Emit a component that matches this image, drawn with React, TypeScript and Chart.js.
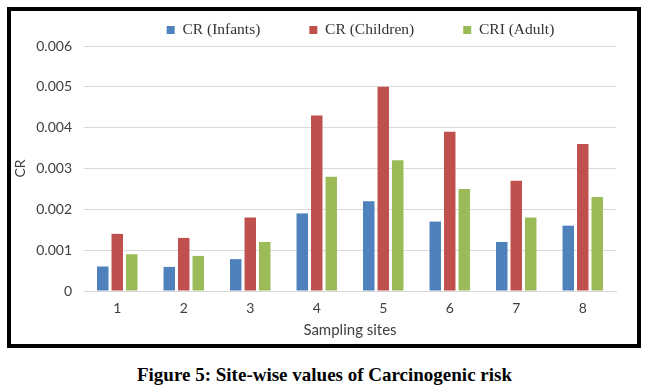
import React, { useEffect, useRef } from "react";
import { Chart, registerables } from "chart.js";

Chart.register(...registerables);

const sites = ["1", "2", "3", "4", "5", "6", "7", "8"];
const crInfants = [0.0006, 0.00059, 0.00078, 0.0019, 0.0022, 0.0017, 0.0012, 0.0016];
const crChildren = [0.0014, 0.0013, 0.0018, 0.0043, 0.005, 0.0039, 0.0027, 0.0036];
const criAdult = [0.0009, 0.00086, 0.0012, 0.0028, 0.0032, 0.0025, 0.0018, 0.0023];
const yTickLabels = ["0", "0.001", "0.002", "0.003", "0.004", "0.005", "0.006"];
const seriesNames = ["CR (Infants)", "CR (Children)", "CRI (Adult)"];

const legendTweak = {
  id: "legendTweak",
  beforeLayout(chart: any) {
    const lg: any = chart.legend;
    if (lg && !lg.__patched) {
      const orig = lg.fit.bind(lg);
      lg.fit = function () {
        orig();
        this.height = 35;
      };
      lg.__patched = true;
    }
  },
  afterLayout(chart: any) {
    const lg: any = chart.legend;
    if (!lg) return;
    lg.top = -37.75;
    lg.left += 47;
    lg.right += 47;
  },
};

export default function App() {
  const ref = useRef<HTMLCanvasElement>(null);
  useEffect(() => {
    if (!ref.current) return;
    const tickFont = { family: "Lato", size: 14 };
    const chart = new Chart(ref.current, {
      type: "bar",
      data: {
        labels: sites,
        datasets: [
          { label: seriesNames[0], data: crInfants, backgroundColor: "#4F81BD" },
          { label: seriesNames[1], data: crChildren, backgroundColor: "#C0504D" },
          { label: seriesNames[2], data: criAdult, backgroundColor: "#9BBB59" },
        ],
      },
      options: {
        responsive: false,
        animation: false,
        devicePixelRatio: 1,
        layout: { padding: { left: 0, right: 21, top: 0, bottom: 0 } },
        datasets: { bar: { categoryPercentage: 0.654, barPercentage: 0.79 } },
        plugins: {
          legend: {
            position: "top",
            labels: {
              boxWidth: 8,
              boxHeight: 8,
              padding: 49,
              color: "#333333",
              font: { family: "Liberation Serif", size: 15.5 },
            },
          },
          tooltip: { enabled: false },
        },
        scales: {
          x: {
            grid: { display: false, drawTicks: false },
            border: { display: true, color: "#d9d9d9", width: 1 },
            ticks: { color: "#404040", font: tickFont, padding: 9, maxRotation: 0 },
            title: {
              display: true,
              text: "Sampling sites",
              color: "#404040",
              font: { family: "Lato", size: 15 },
              padding: { top: 0, bottom: 5 },
            },
            afterFit(scale: any) {
              scale.height = 53;
            },
          },
          y: {
            min: 0,
            max: 0.006,
            grid: { color: "#d9d9d9", lineWidth: 1, drawTicks: false },
            border: { display: false },
            ticks: {
              stepSize: 0.001,
              color: "#404040",
              font: tickFont,
              padding: 12,
              callback: (_v: any, i: number) => yTickLabels[i],
            },
            title: {
              display: true,
              text: "CR",
              color: "#404040",
              font: { family: "Lato", size: 14 },
              padding: { top: 1, bottom: 0 },
            },
            afterFit(scale: any) {
              scale.width = 73;
            },
          },
        },
      },
      plugins: [legendTweak],
    });
    return () => chart.destroy();
  }, []);

  return (
    <div style={{ position: "absolute", left: 0, top: 0, width: 649, height: 392, background: "#fff" }}>
      <div
        style={{
          position: "absolute",
          left: 7,
          top: 7,
          width: 634,
          height: 341,
          border: "4px solid #000",
          boxSizing: "border-box",
          background: "#fff",
        }}
      >
        <canvas ref={ref} width={626} height={333} style={{ display: "block", width: 626, height: 333 }} />
      </div>
      <div
        style={{
          position: "absolute",
          left: 0,
          top: 364,
          width: 649,
          textAlign: "center",
          fontFamily: "'Liberation Serif', 'Times New Roman', serif",
          fontWeight: "bold",
          fontSize: 19,
          lineHeight: "22px",
          color: "#000",
        }}
      >
        Figure 5: Site-wise values of Carcinogenic risk
      </div>
    </div>
  );
}
